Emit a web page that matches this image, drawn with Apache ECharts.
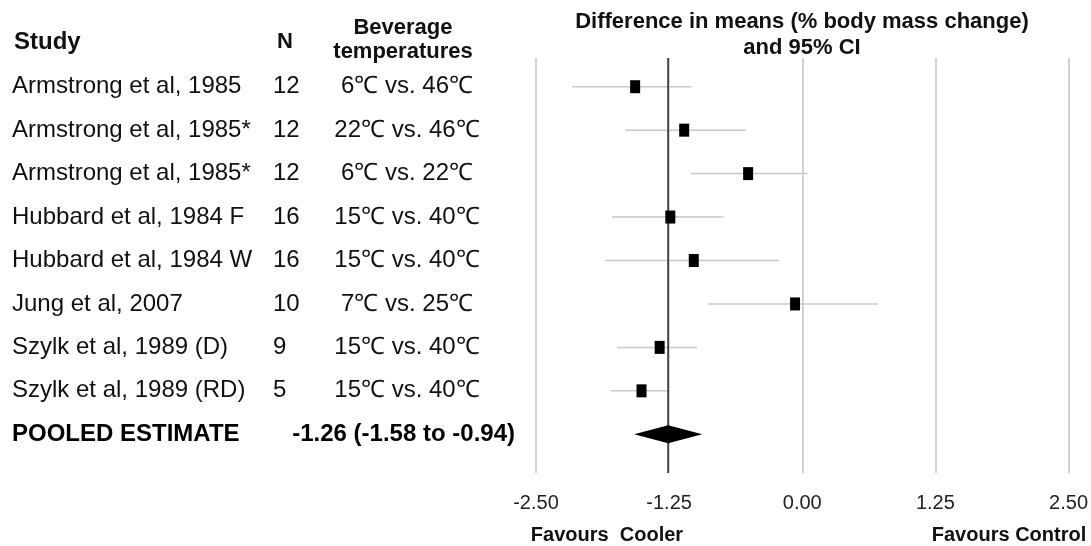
<!DOCTYPE html>
<html>
<head>
<meta charset="utf-8">
<script src="https://cdn.jsdelivr.net/npm/echarts@6/dist/echarts.min.js"></script>
<style>
  html, body { margin: 0; padding: 0; background: #fff; }
  #forest { width: 1091px; height: 546px; }
</style>
</head>
<body>
<div id="forest"></div>
<script>
// study rows, top to bottom
const studies = [
  "Armstrong et al, 1985",
  "Armstrong et al, 1985*",
  "Armstrong et al, 1985*",
  "Hubbard et al, 1984 F",
  "Hubbard et al, 1984 W",
  "Jung et al, 2007",
  "Szylk et al, 1989 (D)",
  "Szylk et al, 1989 (RD)"
];
const sampleN = [12, 12, 12, 16, 16, 10, 9, 5];
const temps = [
  "6℃ vs. 46℃",
  "22℃ vs. 46℃",
  "6℃ vs. 22℃",
  "15℃ vs. 40℃",
  "15℃ vs. 40℃",
  "7℃ vs. 25℃",
  "15℃ vs. 40℃",
  "15℃ vs. 40℃"
];
const means = [-1.57, -1.11, -0.51, -1.24, -1.02, -0.07, -1.34, -1.51];
const ciLow = [-2.16, -1.66, -1.05, -1.79, -1.85, -0.88, -1.74, -1.80];
const ciHigh = [-1.04, -0.53, 0.05, -0.74, -0.22, 0.71, -0.99, -1.25];
const pooledLabel = "POOLED ESTIMATE";
const pooled = [-1.26, -1.58, -0.94]; // mean, low, high
const tickValues = [-2.5, -1.25, 0, 1.25, 2.5];

const FONT = "'Liberation Sans', Arial, Helvetica, sans-serif";
const rows = studies.concat([pooledLabel]);
const pooledIdx = studies.length;

const chart = echarts.init(document.getElementById("forest"));

function txt(text, x, y, size, align) {
  return {
    type: "text",
    x: x,
    y: y,
    style: {
      text: text,
      font: "bold " + size + "px " + FONT,
      fill: "#111",
      align: align,
      textAlign: align,
      verticalAlign: "middle",
      textVerticalAlign: "middle"
    }
  };
}

const option = {
  animation: false,
  backgroundColor: "#fff",
  textStyle: { fontFamily: FONT },
  grid: [
    // background grid for the vertical reference lines
    { left: 536, right: 22, top: 58, bottom: 73 },
    // rows
    { left: 536, right: 22, top: 65, bottom: 90 }
  ],
  xAxis: [
    {
      gridIndex: 0,
      type: "value",
      min: tickValues[0],
      max: tickValues[tickValues.length - 1],
      interval: tickValues[1] - tickValues[0],
      axisLine: { show: false },
      axisTick: { show: false },
      splitLine: { show: true, lineStyle: { color: "#d2d2d2", width: 2 } },
      axisLabel: {
        fontSize: 20,
        color: "#222",
        margin: 20,
        formatter: (v) => v.toFixed(2)
      }
    },
    {
      gridIndex: 1,
      type: "value",
      min: tickValues[0],
      max: tickValues[tickValues.length - 1],
      show: false
    }
  ],
  yAxis: [
    { gridIndex: 0, type: "value", min: 0, max: 1, show: false },
    {
      gridIndex: 1,
      type: "category",
      data: rows,
      inverse: true,
      axisLine: { show: false },
      axisTick: { show: false },
      splitLine: { show: false },
      axisLabel: {
        align: "left",
        margin: 524,
        color: "#111",
        fontSize: 24,
        formatter: (value, idx) => {
          if (idx === pooledIdx) {
            const est = pooled[0].toFixed(2) + " (" + pooled[1].toFixed(2) + " to " + pooled[2].toFixed(2) + ")";
            return "{p|" + value + "}{e|" + est + "}";
          }
          return "{s|" + value + "}{n|" + sampleN[idx] + "}{t|" + temps[idx] + "}";
        },
        rich: {
          s: { width: 261, align: "left", fontSize: 24, color: "#111" },
          n: { width: 36, align: "left", fontSize: 24, color: "#111" },
          t: { width: 196, align: "center", fontSize: 24, color: "#111" },
          p: { width: 255, align: "left", fontSize: 24, fontWeight: "bold", color: "#000" },
          e: { width: 248, align: "right", fontSize: 24, fontWeight: "bold", color: "#000" }
        }
      }
    }
  ],
  graphic: [
    txt("Study", 14, 42, 24, "left"),
    txt("N", 285, 42, 22, "center"),
    txt("Beverage", 403, 28, 22, "center"),
    txt("temperatures", 403, 52, 22, "center"),
    txt("Difference in means (% body mass change)", 802, 22, 22, "center"),
    txt("and 95% CI", 802, 48, 22, "center"),
    txt("Favours  Cooler", 607, 535, 20, "center"),
    txt("Favours Control", 1009, 535, 20, "center")
  ],
  series: [
    {
      // pooled estimate reference line
      type: "line",
      xAxisIndex: 0,
      yAxisIndex: 0,
      data: [[pooled[0], 0], [pooled[0], 1]],
      symbol: "none",
      lineStyle: { color: "#222", width: 1.5 },
      silent: true
    },
    {
      // confidence intervals
      type: "custom",
      xAxisIndex: 1,
      yAxisIndex: 1,
      data: means.map((m, i) => [ciLow[i], ciHigh[i], i]),
      encode: { x: [0, 1], y: 2 },
      renderItem: (params, api) => {
        const a = api.coord([api.value(0), api.value(2)]);
        const b = api.coord([api.value(1), api.value(2)]);
        return {
          type: "line",
          shape: { x1: a[0], y1: a[1], x2: b[0], y2: b[1] },
          style: { stroke: "#c8c8c8", lineWidth: 1.5 }
        };
      }
    },
    {
      // study means
      type: "scatter",
      xAxisIndex: 1,
      yAxisIndex: 1,
      data: means.map((m, i) => [m, i]),
      symbol: "rect",
      symbolSize: [10, 13],
      itemStyle: { color: "#000", opacity: 1 },
      z: 5
    },
    {
      // pooled diamond
      type: "custom",
      xAxisIndex: 1,
      yAxisIndex: 1,
      data: [[pooled[0], pooled[1], pooled[2], pooledIdx]],
      encode: { x: [0, 1, 2], y: 3 },
      z: 5,
      renderItem: (params, api) => {
        const c = api.coord([api.value(0), api.value(3)]);
        const l = api.coord([api.value(1), api.value(3)]);
        const r = api.coord([api.value(2), api.value(3)]);
        const h = 9;
        return {
          type: "polygon",
          shape: { points: [[l[0], l[1]], [c[0], c[1] - h], [r[0], r[1]], [c[0], c[1] + h]] },
          style: { fill: "#000" }
        };
      }
    }
  ]
};

chart.setOption(option);
window.addEventListener("resize", () => {
  chart.resize();
});
</script>
</body>
</html>
